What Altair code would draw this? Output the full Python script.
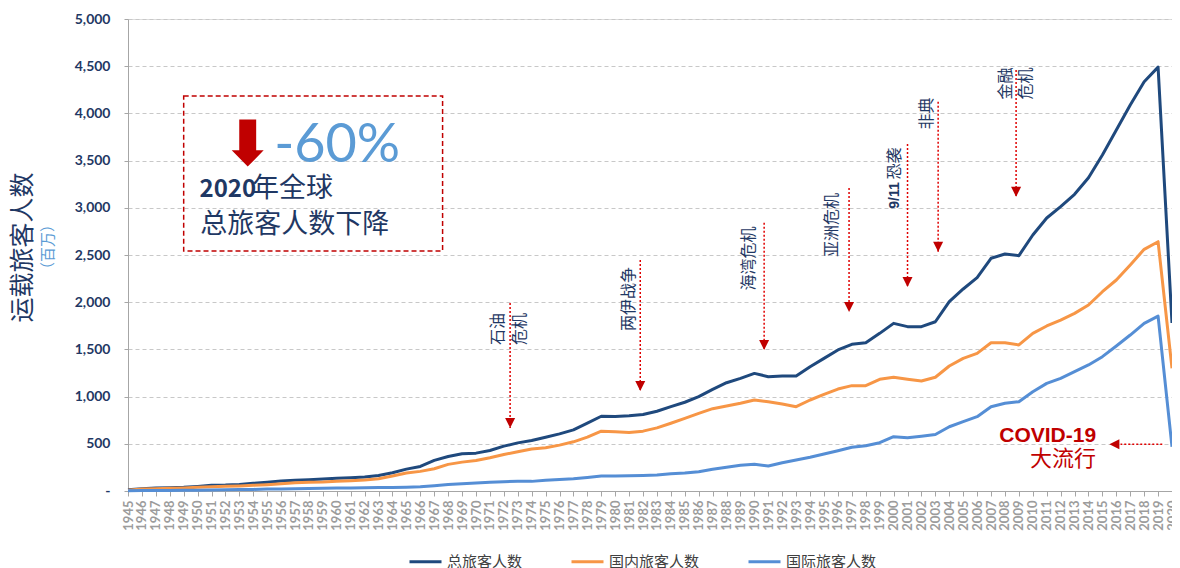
import altair as alt
import pandas as pd

years = list(range(1945, 2021))
total = [12, 25, 32, 35, 39, 49, 60, 63, 70, 81, 92, 106, 113, 120, 127, 134, 141, 148, 165, 194,
         232, 260, 324, 366, 394, 401, 429, 475, 510, 535, 570, 605, 648, 718, 792, 788, 796, 810, 845, 894,
         940, 999, 1077, 1147, 1193, 1246, 1211, 1218, 1218, 1317, 1405, 1494, 1554, 1571, 1670, 1776, 1741, 1741, 1793, 2006,
         2140, 2260, 2465, 2510, 2493, 2712, 2892, 3012, 3143, 3319, 3560, 3824, 4089, 4336, 4490, 1780]
domestic = [8, 20, 25, 28, 32, 39, 46, 49, 53, 60, 67, 77, 88, 92, 95, 102, 109, 116, 130, 158,
            190, 208, 236, 282, 306, 324, 352, 387, 415, 444, 458, 486, 521, 570, 634, 627, 620, 634, 669, 718,
            770, 823, 872, 900, 929, 964, 946, 922, 893, 964, 1024, 1080, 1116, 1116, 1183, 1204, 1183, 1165, 1205, 1324,
            1405, 1458, 1571, 1571, 1547, 1670, 1748, 1811, 1882, 1970, 2111, 2235, 2394, 2560, 2641, 1300]
international = [3, 4, 5, 6, 7, 9, 11, 13, 15, 17, 20, 22, 24, 26, 29, 31, 33, 35, 37, 38,
                 40, 45, 56, 70, 77, 85, 92, 99, 102, 102, 113, 123, 130, 144, 158, 158, 162, 165, 169, 183,
                 190, 205, 230, 251, 272, 283, 265, 300, 328, 357, 392, 427, 463, 480, 512, 575, 565, 580, 598, 681,
                 734, 787, 893, 929, 946, 1052, 1140, 1193, 1264, 1335, 1423, 1536, 1652, 1776, 1853, 469]
series_names = ["总旅客人数", "国内旅客人数", "国际旅客人数"]
series_colors = ["#1F497D", "#F79646", "#558ED5"]

# event arrows (year position, start value, tip value)
arrow_years = [1972.45, 1981.8, 1990.7, 1996.8, 2001.0, 2003.2, 2008.8]
arrow_tops = [1992, 2447, 2842, 3210, 3676, 4124, 4460]
arrow_tips = [667, 1059, 1494, 1896, 2161, 2535, 3118]

event_texts = ["石油", "危机", "两伊战争", "海湾危机", "亚洲危机", "恐袭", "非典", "金融", "危机"]
event_label_x = [1971.6, 1973.15, 1981.0, 1989.6, 1995.6, 2000.1, 2002.4, 2008.1, 2009.5]
event_label_y = [1716, 1716, 2034, 2463, 2818, 3469, 3999, 4317, 4317]
bold_event_texts = ["9/11"]
bold_event_x = [2000.1]
bold_event_y = [3130]

covid_texts = ["COVID-19", "大流行"]
covid_x = [2014.55, 2014.55]
covid_y = [519, 265]
covid_arrow = {"start": 2019.3, "end": 2016.3, "value": 495, "head": 2015.86}

box_x = [1949.0, 1967.6]
box_y = [2542, 4184]
drop_text = "-60%"
drop_x, drop_y = 1955.5, 3488
arrow_icon_x, arrow_icon_y = 1953.6, 3686
box_line1_bold = "2020"
box_line1_rest = "年全球"
box_line2 = "总旅客人数下降"
box_line1_x = [1950.14, 1953.9]
box_line1_y = 3118
box_line2_x = 1950.19
box_line2_y = 2728

y_title = "运载旅客人数"
y_subtitle = "（百万）"

CJK = "Noto Sans CJK SC"
NAVY = "#1F3864"
RED = "#C00000"

rows = []
for name, vals in zip(series_names, [total, domestic, international]):
    for yr, v in zip(years, vals):
        rows.append({"year": yr, "value": v, "series": name})
df = pd.DataFrame(rows)

xscale = alt.Scale(domain=[1945, 2020], nice=False, zero=False)
yscale = alt.Scale(domain=[0, 5000], nice=False)
xaxis = alt.Axis(
    values=years, format="d", labelAngle=270, labelFontSize=13, labelColor="#9C9C9C",
    labelFont="Lato", labelFontWeight="bold", tickSize=5, tickColor="#A6A6A6",
    domainColor="#A6A6A6", grid=False, labelOverlap=False, labelFlush=False,
    labelPadding=4, title=None)
yaxis = alt.Axis(
    values=list(range(0, 5001, 500)),
    labelExpr="datum.value == 0 ? '-' : format(datum.value, ',')",
    labelFontSize=14, labelFont="Lato", labelFontWeight="bold", labelColor=NAVY,
    tickSize=4, tickColor="#A6A6A6", domainColor="#A6A6A6",
    grid=True, gridDash=[4, 3], gridColor="#C8C8C8", labelPadding=14,
    title=y_title, titleX=-106, titleY=228, titleAngle=270, titleAlign="center",
    titleBaseline="middle", titleFont=CJK, titleFontSize=25, titleFontWeight="normal",
    titleColor=NAVY)


def X(field):
    return alt.X(field, scale=xscale, axis=xaxis, title=None)


def Y(field):
    return alt.Y(field, scale=yscale, axis=yaxis, title=y_title)


lines = alt.Chart(df).mark_line(strokeWidth=3, strokeJoin="round").encode(
    x=X("year:Q"),
    y=Y("value:Q"),
    color=alt.Color("series:N", scale=alt.Scale(domain=series_names, range=series_colors),
                    legend=alt.Legend(orient="none", legendX=280, legendY=525, direction="horizontal",
                                      title=None, symbolType="stroke", symbolSize=1024,
                                      symbolStrokeWidth=3, labelFontSize=15, labelFont=CJK,
                                      labelColor="#404040", columnPadding=42, labelOffset=4)),
    order=alt.Order("series:N")
)

arrows_df = pd.DataFrame({"year": arrow_years, "top": arrow_tops, "tip": arrow_tips})
rules = alt.Chart(arrows_df).mark_rule(color="#E00000", strokeDash=[2, 2], strokeWidth=1.5).encode(
    x=X("year:Q"), y=Y("top:Q"), y2="tip:Q")
heads = alt.Chart(arrows_df).mark_point(shape="M-1,-1L1,-1L0,1Z", filled=True, size=100, opacity=1,
                                        color=RED, strokeWidth=0, yOffset=-5).encode(
    x=X("year:Q"), y=Y("tip:Q"))

ev_df = pd.DataFrame({"x": event_label_x, "y": event_label_y, "t": event_texts})
ev_text = alt.Chart(ev_df).mark_text(angle=270, align="center", baseline="middle", font=CJK,
                                     fontSize=16, color=NAVY).encode(
    x=X("x:Q"), y=Y("y:Q"), text="t:N")
evb_df = pd.DataFrame({"x": bold_event_x, "y": bold_event_y, "t": bold_event_texts})
evb_text = alt.Chart(evb_df).mark_text(angle=270, align="center", baseline="middle", font="Liberation Sans",
                                       fontWeight="bold", fontSize=14, color=NAVY).encode(
    x=X("x:Q"), y=Y("y:Q"), text="t:N")

cov_df = pd.DataFrame({"x": covid_x, "y": covid_y, "t": covid_texts})
cov_text1 = alt.Chart(cov_df.iloc[[0]]).mark_text(align="right", baseline="alphabetic",
                                                  font="Liberation Sans", fontWeight="bold",
                                                  fontSize=21, color=RED).encode(
    x=X("x:Q"), y=Y("y:Q"), text="t:N")
cov_text2 = alt.Chart(cov_df.iloc[[1]]).mark_text(align="right", baseline="alphabetic", font=CJK,
                                                  fontSize=22, color=RED).encode(
    x=X("x:Q"), y=Y("y:Q"), text="t:N")
cov_line_df = pd.DataFrame({"x": [covid_arrow["start"]], "x2": [covid_arrow["end"]],
                            "y": [covid_arrow["value"]], "h": [covid_arrow["head"]]})
cov_rule = alt.Chart(cov_line_df).mark_rule(color="#E00000", strokeDash=[2, 2], strokeWidth=1.5).encode(
    x=X("x:Q"), x2="x2:Q", y=Y("y:Q"))
cov_head = alt.Chart(cov_line_df).mark_point(shape="M1,-1L1,1L-1,0Z", filled=True, size=100, opacity=1,
                                             color=RED, strokeWidth=0).encode(
    x=X("h:Q"), y=Y("y:Q"))

box_df = pd.DataFrame({"x": [box_x[0]], "x2": [box_x[1]], "y": [box_y[0]], "y2": [box_y[1]]})
box = alt.Chart(box_df).mark_rect(fill="white", fillOpacity=0, stroke=RED, strokeDash=[5, 3],
                                  strokeWidth=1.5).encode(
    x=X("x:Q"), x2="x2:Q", y=Y("y:Q"), y2="y2:Q")

icon_df = pd.DataFrame({"x": [arrow_icon_x], "y": [arrow_icon_y]})
icon = alt.Chart(icon_df).mark_point(
    shape="M-0.36,-1L0.36,-1L0.36,0.31L0.68,0.31L0,1L-0.68,0.31L-0.36,0.31Z",
    filled=True, size=2209, opacity=1, color=RED, strokeWidth=0).encode(
    x=X("x:Q"), y=Y("y:Q"))

pct_df = pd.DataFrame({"x": [drop_x], "y": [drop_y], "t": [drop_text]})
pct = alt.Chart(pct_df).mark_text(align="left", baseline="alphabetic", font="Lato", fontSize=54,
                                  color="#5B9BD5").encode(
    x=X("x:Q"), y=Y("y:Q"), text="t:N")

l1a_df = pd.DataFrame({"x": [box_line1_x[0]], "y": [box_line1_y], "t": [box_line1_bold]})
l1a = alt.Chart(l1a_df).mark_text(align="left", baseline="alphabetic", font=CJK, fontWeight="bold",
                                  fontSize=24, color=NAVY).encode(
    x=X("x:Q"), y=Y("y:Q"), text="t:N")
l1b_df = pd.DataFrame({"x": [box_line1_x[1]], "y": [box_line1_y], "t": [box_line1_rest]})
l1b = alt.Chart(l1b_df).mark_text(align="left", baseline="alphabetic", font=CJK,
                                  fontSize=27, color=NAVY).encode(
    x=X("x:Q"), y=Y("y:Q"), text="t:N")
l2_df = pd.DataFrame({"x": [box_line2_x], "y": [box_line2_y], "t": [box_line2]})
l2 = alt.Chart(l2_df).mark_text(align="left", baseline="alphabetic", font=CJK,
                                fontSize=27, color=NAVY).encode(
    x=X("x:Q"), y=Y("y:Q"), text="t:N")

sub_df = pd.DataFrame({"t": [y_subtitle]})
sub = alt.Chart(sub_df).mark_text(angle=270, align="center", baseline="middle", font=CJK,
                                  fontSize=15, color="#5B9BD5").encode(
    x=alt.value(-80), y=alt.value(228), text="t:N")

chart = alt.layer(
    box, lines, rules, heads, ev_text, evb_text, cov_rule, cov_head, cov_text1, cov_text2,
    icon, pct, l1a, l1b, l2, sub
).properties(
    width=1044, height=472, autosize="none",
    padding={"left": 120, "top": 11, "right": 0, "bottom": 77}
).configure_view(stroke=None).configure(background="white")

chart.save("out.html", embed_options={"renderer": "svg", "actions": False})
